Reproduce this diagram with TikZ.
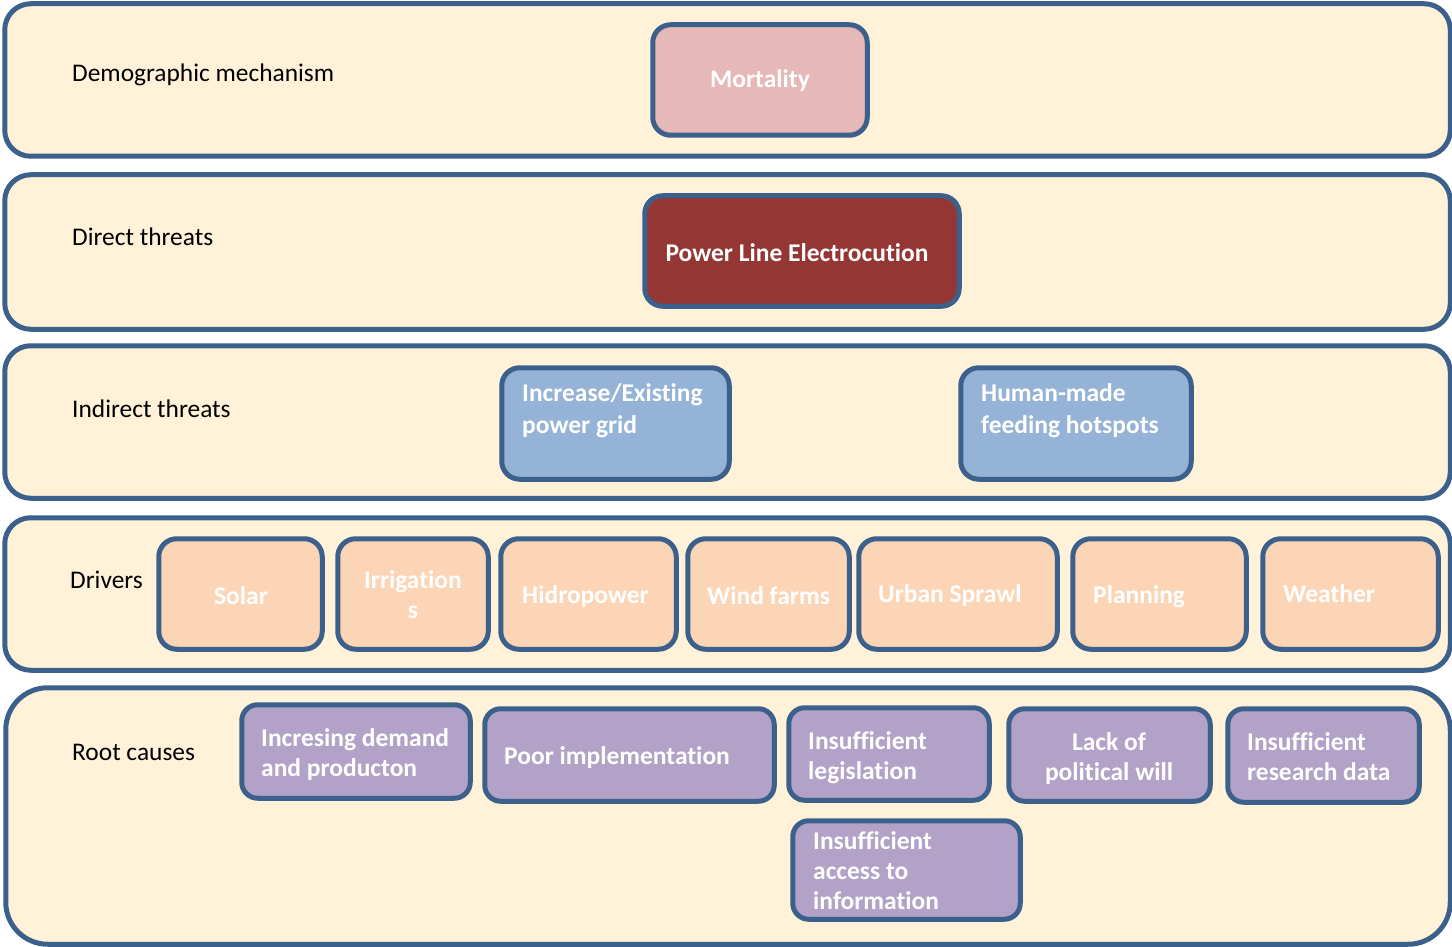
\documentclass[tikz,border=0pt]{standalone}
\usepackage{fontspec}
\setmainfont{Carlito}[Ligatures=NoCommon]
\definecolor{edge}{RGB}{60,96,140}
\definecolor{cream}{RGB}{255,242,217}
\definecolor{pinkf}{RGB}{230,184,183}
\definecolor{redf}{RGB}{148,54,52}
\definecolor{bluef}{RGB}{149,179,215}
\definecolor{peachf}{RGB}{251,213,181}
\definecolor{purplef}{RGB}{178,162,199}
\newcommand\lefttab[1]{\begin{tabular}{@{}l@{}}#1\end{tabular}}
\newcommand\centtab[1]{\begin{tabular}{@{}c@{}}#1\end{tabular}}
% style, x1, y1, x2, y2 (outer edges), name
\newcommand\rbox[6]{\node[#1, minimum width={#4-#2-3.5}, minimum height={#5-#3-3.5}] (#6) at ({(#2+#4)/2},{(#3+#5)/2}) {};}
\tikzset{
  lane/.style={draw=edge, line width=5pt, fill=cream, rounded corners=26pt, inner sep=0pt, outer sep=0pt},
  bigLane/.style={lane, rounded corners=42pt},
  box/.style={draw=edge, line width=5pt, rounded corners=18pt, inner sep=0pt, outer sep=0pt},
  pinkbox/.style={box, fill=pinkf},
  redbox/.style={box, fill=redf},
  bluebox/.style={box, fill=bluef},
  peachbox/.style={box, fill=peachf},
  purplebox/.style={box, fill=purplef, rounded corners=16pt},
  lanelabel/.style={anchor=west, inner sep=0pt, font=\fontsize{25.4}{30}\selectfont, text=black},
  btext/.style={inner sep=0pt, text=white, font=\bfseries\fontsize{25.5}{30}\selectfont},
}
\begin{document}
\begin{tikzpicture}[x=1pt,y=-1pt]
\useasboundingbox (0,0) rectangle (1452,947);
% lanes
\rbox{lane}{3}{2}{1452}{158}{L1}
\rbox{lane}{3}{173}{1452}{331}{L2}
\rbox{lane}{3}{344}{1452}{500}{L3}
\rbox{lane}{3}{516}{1452}{672}{L4}
\rbox{bigLane}{4}{686}{1452}{946}{L5}
% lane labels
\node[lanelabel] (lab1) at (72,76) {\lefttab{Demographic mechanism}};
\node[lanelabel] (lab2) at (72,239) {\lefttab{Direct threats}};
\node[lanelabel] (lab3) at (72,411) {\lefttab{Indirect threats}};
\node[lanelabel] (lab4) at (70,582) {\lefttab{Drivers}};
\node[lanelabel] (lab5) at (72,754) {\lefttab{Root causes}};
% demographic mechanism
\rbox{pinkbox}{651}{23}{869}{137}{mort}
\node[btext] (mort-t) at (760,82) {\centtab{Mortality}};
% direct threats
\rbox{redbox}{643}{194}{961}{308}{plec}
\node[btext] (plec-t) at (797,255) {\centtab{Power Line Electrocution}};
% indirect threats
\rbox{bluebox}{500}{366}{731}{481}{grid}
\node[btext, anchor=west] (grid-t) at (522,411) {\lefttab{Increase/Existing\\[2pt]power grid}};
\rbox{bluebox}{959}{366}{1193}{481}{feed}
\node[btext, anchor=west] (feed-t) at (981,411) {\lefttab{Human-made\\[2pt]feeding hotspots}};
% drivers
\rbox{peachbox}{157}{537}{324}{651}{solar}
\node[btext] (solar-t) at (241,598) {\centtab{Solar}};
\rbox{peachbox}{336}{537}{490}{651}{irr}
\node[btext] (irr-t) at (413,597) {\centtab{Irrigation\\s}};
\rbox{peachbox}{499}{537}{678}{651}{hydro}
\node[btext, anchor=west] (hydro-t) at (522,597) {\lefttab{Hidropower}};
\rbox{peachbox}{686}{537}{851}{651}{wind}
\node[btext, anchor=west] (wind-t) at (707,598) {\lefttab{Wind farms}};
\rbox{peachbox}{857}{537}{1059}{651}{urban}
\node[btext, anchor=west] (urban-t) at (878,596) {\lefttab{Urban Sprawl}};
\rbox{peachbox}{1071}{537}{1248}{651}{plan}
\node[btext, anchor=west] (plan-t) at (1093,597) {\lefttab{Planning}};
\rbox{peachbox}{1261}{537}{1440}{651}{weather}
\node[btext, anchor=west] (weather-t) at (1283,596) {\lefttab{Weather}};
% root causes
\rbox{purplebox}{240}{703}{472}{800}{demand}
\node[btext, anchor=west] (demand-t) at (261,755) {\lefttab{Incresing demand\\and producton}};
\rbox{purplebox}{483}{707}{776}{803}{poor}
\node[btext, anchor=west] (poor-t) at (504,758) {\lefttab{Poor implementation}};
\rbox{purplebox}{787}{706}{991}{802}{legis}
\node[btext, anchor=west] (legis-t) at (808,758) {\lefttab{Insufficient\\legislation}};
\rbox{purplebox}{1007}{707}{1212}{803}{will}
\node[btext] (will-t) at (1109,759) {\centtab{Lack of\\political will}};
\rbox{purplebox}{1226}{707}{1421}{804}{research}
\node[btext, anchor=west] (research-t) at (1247,759) {\lefttab{Insufficient\\research data}};
\rbox{purplebox}{791}{819}{1022}{921}{access}
\node[btext, anchor=west] (access-t) at (813,873) {\lefttab{Insufficient\\access to\\information}};
\end{tikzpicture}
\end{document}
